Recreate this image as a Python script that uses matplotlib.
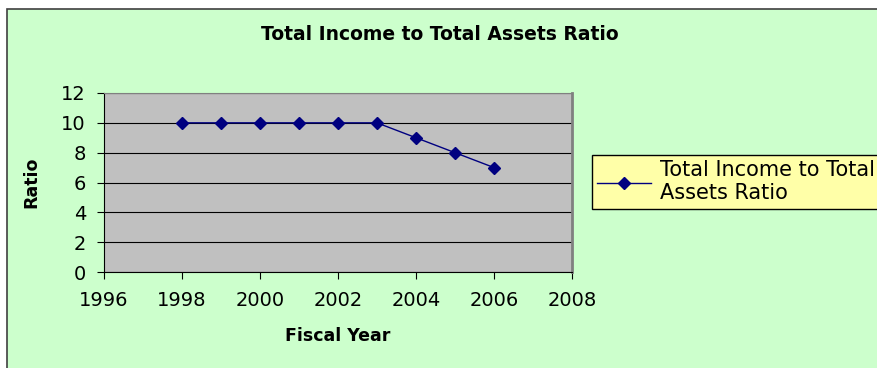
import matplotlib.pyplot as plt
from matplotlib.patches import Rectangle

plt.rcParams['font.family'] = ['DejaVu Sans']

# data
years = [1998, 1999, 2000, 2001, 2002, 2003, 2004, 2005, 2006]
ratio = [10, 10, 10, 10, 10, 10, 9, 8, 7]
series_name = 'Total Income to Total\nAssets Ratio'

fig = plt.figure(figsize=(8.78, 3.68), dpi=100)
fig.patch.set_facecolor('white')

# green chart area with border
fig.patches.append(Rectangle((7 / 878, -0.01), 1.0, 1 - 9 / 368 + 0.01,
                             transform=fig.transFigure, facecolor='#CCFFCC',
                             edgecolor='#404040', linewidth=1.2, zorder=-1))

ax = fig.add_axes([104 / 878, 1 - 272 / 368, 468 / 878, 179 / 368])
ax.set_facecolor('#C0C0C0')
ax.plot(years, ratio, color='#000080', marker='D', markersize=6.5, linewidth=1,
        label=series_name, zorder=3)

ax.set_xlim(1996, 2008)
ax.set_ylim(0, 12)
ax.set_xticks(range(1996, 2009, 2))
ax.set_yticks(range(0, 13, 2))
ax.yaxis.grid(True, color='black', linewidth=0.8)
ax.set_axisbelow(True)

ax.spines['top'].set_color('#808080')
ax.spines['right'].set_color('#808080')
ax.spines['right'].set_linewidth(2)
ax.spines['left'].set_color('black')
ax.spines['bottom'].set_color('black')
ax.tick_params(labelsize=14, length=5, direction='out', width=0.8)
ax.tick_params(axis='y', pad=8)
ax.tick_params(axis='x', pad=9)

ax.set_xlabel('Fiscal Year', fontsize=12.5, fontweight='bold', labelpad=12)
ax.set_ylabel('Ratio', fontsize=12.5, fontweight='bold', labelpad=15)

fig.text(440 / 878, 1 - 34 / 368, 'Total Income to Total Assets Ratio',
         ha='center', va='center', fontsize=13.5, fontweight='bold')

leg = fig.legend(loc='upper left', bbox_to_anchor=(592 / 878, 1 - 155 / 368),
                 fontsize=15, frameon=True, fancybox=False,
                 facecolor='#FFFFA8', edgecolor='black', framealpha=1,
                 handlelength=2.6, borderpad=0.25, handletextpad=0.4,
                 borderaxespad=0, labelspacing=0.2)
leg.get_frame().set_linewidth(1)

fig.savefig('out.png', dpi=100, facecolor=fig.get_facecolor())
